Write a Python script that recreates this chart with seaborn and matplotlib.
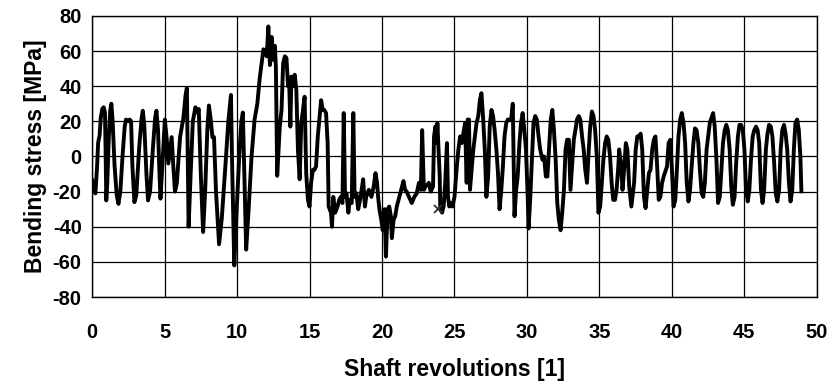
import numpy as np
import pandas as pd
import matplotlib
matplotlib.use("Agg")
import matplotlib.pyplot as plt
import seaborn as sns

# shaft revolutions
rev = [
    0.00, 0.12, 0.23, 0.35, 0.42, 0.52, 0.60, 0.70, 0.80, 0.89, 0.93, 0.98,
    1.05, 1.15, 1.25, 1.33, 1.42, 1.55, 1.70, 1.82, 1.95, 2.10, 2.25, 2.34,
    2.50, 2.60, 2.69, 2.78, 2.92, 3.05, 3.25, 3.42, 3.50, 3.60, 3.75, 3.86,
    4.00, 4.20, 4.35, 4.44, 4.55, 4.65, 4.72, 4.85, 5.02, 5.15, 5.26, 5.40,
    5.49, 5.60, 5.72, 5.85, 6.07, 6.30, 6.45, 6.54, 6.60, 6.66, 6.80, 6.95,
    7.13, 7.25, 7.36, 7.50, 7.66, 7.80, 7.95, 8.06, 8.20, 8.30, 8.41, 8.55,
    8.76, 8.95, 9.20, 9.40, 9.58, 9.65, 9.81, 9.95, 10.15, 10.30, 10.40, 10.50,
    10.63, 10.80, 11.00, 11.21, 11.40, 11.57, 11.82, 12.05, 12.16, 12.27, 12.39, 12.50,
    12.61, 12.68, 12.77, 12.95, 13.07, 13.18, 13.30, 13.41, 13.52, 13.59, 13.68, 13.75,
    13.86, 13.98, 14.09, 14.20, 14.32, 14.43, 14.55, 14.66, 14.77, 14.89, 15.00, 15.11,
    15.23, 15.34, 15.45, 15.57, 15.68, 15.80, 15.91, 16.02, 16.14, 16.25, 16.32, 16.48,
    16.55, 16.64, 16.77, 16.93, 17.05, 17.16, 17.27, 17.36, 17.45, 17.55, 17.68, 17.77,
    17.91, 18.02, 18.11, 18.23, 18.36, 18.52, 18.70, 18.82, 18.91, 19.09, 19.27, 19.43,
    19.55, 19.66, 19.73, 19.82, 19.95, 20.05, 20.18, 20.27, 20.39, 20.50, 20.61, 20.68,
    20.80, 20.91, 21.02, 21.14, 21.32, 21.48, 21.59, 21.70, 21.86, 22.05, 22.23, 22.39,
    22.55, 22.68, 22.77, 22.89, 23.00, 23.14, 23.23, 23.36, 23.52, 23.59, 23.68, 23.77,
    23.82, 23.98, 24.02, 24.14, 24.25, 24.36, 24.48, 24.55, 24.64, 24.77, 24.86, 25.00,
    25.16, 25.27, 25.39, 25.50, 25.61, 25.73, 25.84, 25.91, 26.00, 26.07, 26.18, 26.30,
    26.41, 26.52, 26.64, 26.75, 26.86, 26.98, 27.09, 27.20, 27.32, 27.43, 27.55, 27.66,
    27.77, 27.89, 28.00, 28.11, 28.23, 28.34, 28.45, 28.57, 28.68, 28.80, 28.91, 29.02,
    29.14, 29.25, 29.36, 29.48, 29.59, 29.70, 29.82, 29.93, 30.05, 30.11, 30.23, 30.34,
    30.45, 30.57, 30.68, 30.80, 30.91, 31.07, 31.18, 31.30, 31.41, 31.52, 31.64, 31.75,
    31.86, 31.98, 32.09, 32.20, 32.32, 32.43, 32.55, 32.66, 32.77, 32.89, 33.00, 33.11,
    33.23, 33.34, 33.45, 33.57, 33.68, 33.80, 33.91, 34.02, 34.14, 34.25, 34.36, 34.48,
    34.59, 34.70, 34.82, 34.93, 35.05, 35.16, 35.27, 35.39, 35.50, 35.61, 35.73, 35.84,
    35.95, 36.07, 36.18, 36.30, 36.36, 36.48, 36.59, 36.70, 36.82, 36.93, 37.05, 37.20,
    37.39, 37.50, 37.61, 37.73, 37.84, 37.95, 38.07, 38.18, 38.30, 38.41, 38.52, 38.64,
    38.75, 38.86, 38.98, 39.09, 39.20, 39.32, 39.43, 39.66, 39.77, 39.89, 40.00, 40.11,
    40.23, 40.34, 40.45, 40.57, 40.68, 40.80, 40.91, 41.02, 41.14, 41.25, 41.36, 41.48,
    41.59, 41.70, 41.82, 41.93, 42.05, 42.16, 42.27, 42.39, 42.61, 42.84, 42.95, 43.07,
    43.18, 43.30, 43.41, 43.52, 43.64, 43.75, 43.86, 43.98, 44.09, 44.20, 44.32, 44.43,
    44.55, 44.66, 44.77, 44.89, 45.00, 45.11, 45.23, 45.34, 45.45, 45.57, 45.68, 45.80,
    45.91, 46.02, 46.14, 46.25, 46.36, 46.48, 46.59, 46.70, 46.82, 46.93, 47.05, 47.16,
    47.27, 47.39, 47.50, 47.61, 47.73, 47.84, 47.95, 48.07, 48.18, 48.30, 48.41, 48.52,
    48.64, 48.75, 48.86, 48.93,
]

# bending stress [MPa] at those points
stress = [
    -13, -17, -21, -5, 8, 12, 22, 27, 28, 25, 5, -25,
    -15, 10, 26, 30, 20, -5, -22, -27, -20, 0, 17, 21,
    20, 21, 20, -5, -26, -22, 5, 22, 26, 18, -10, -25,
    -20, 5, 22, 26, 15, -10, -24, -5, 21, 10, -4, 5,
    11, -5, -20, -15, 11, 22, 35, 39, 0, -40, -10, 20,
    28, 25, 27, -10, -43, -20, 15, 29, 20, 11, 11, -20,
    -50, -35, -5, 20, 35, 0, -62, -35, 0, 20, 25, -10,
    -53, -30, 0, 21, 30, 45, 61, 57, 74, 52, 68, 55,
    63, 51, -11, 17, 26.5, 53, 57, 56, 40, 44, 17, 45.5,
    40, 46.5, 38, 4, -13, 19, 26.5, 34, -9.5, -24.7, -28.5, -15,
    -7.6, -7.6, -5.7, 11.4, 21, 32, 26.5, 26.5, 24.7, 7.6, -28.5, -32,
    -40, -23, -32, -28.5, -24.7, -23, -26.5, 24.7, -23, -21, -32, -24.7,
    -26.5, 24.7, -23, -21, -30, -23, -13, -28.5, -23, -19, -23, -17,
    -9.5, -15, -23, -30, -36, -42, -30, -57, -30, -28.5, -34, -46.5,
    -36, -34, -28.5, -24.7, -19, -14, -19, -20, -23, -26.5, -23, -21,
    -15, -19, 15, -19, -17, -16, -15, -20, -17, 11.4, 17, 7.6,
    19, -11, -30, -32, -28.5, -15, 7.6, -23, -28.5, -26.5, -28.5, -23,
    -5.7, 4, 11.4, 7.6, 13, 19, -15, 21, 21, -19, -7.6, 4,
    11.4, 19, 23, 32, 36, 21, 4, -23, -11.4, 17, 26.5, 23,
    15, 4, -9.5, -30, -19, -5.7, 11.4, 19, 21, 21, 21, 30,
    -34, -19, -11.4, 7.6, 19, 24.7, 15, 4, -23, -41, -23, -1.9,
    19, 23, 21, 11.4, 4, -1.9, 0, -11.4, -11.4, 4, 21, 26.5,
    15, -1.9, -26.5, -36, -42, -32, -19, 4, 9.5, 9.5, -19, -5.7,
    9.5, 15, 21, 23, 21, 11.4, 4, -7.6, -15, 1.9, 17, 25.6,
    23, 15, 0, -32, -28.5, -15, -1.9, 7.6, 11.4, 9.5, 0, -15,
    -24.7, -24.7, -19, -5.7, 4, -4, -19, -7.6, 7.6, 3.8, -17, -28.5,
    -15, 4, 11.4, 11.4, 13, 4, -23, -29.4, -19, -9.5, -7.6, 4,
    9.5, 11.4, -5.7, -24.7, -23, -15, -11.4, -5.7, 7.6, 9.5, -7.6, -28.5,
    -24.7, -7.6, 11.4, 21, 24.7, 19, 7.6, -15, -25.6, -19, -5.7, 7.6,
    16, 15, 7.6, -7.6, -21, -23, -15, 4, 19, 24.7, 17, -1.9,
    -26.5, -23, -7.6, 7.6, 15, 18, 15, 4, -17, -27.5, -23, -3.8,
    11.4, 18, 18, 15, 4, -19, -25.6, -19, -1.9, 11.4, 15, 17,
    15, 7.6, -19, -26.5, -19, 4, 13, 18, 17, 11.4, -3.8, -21,
    -25.6, -19, 4, 15, 18, 13, 4, -15, -25.6, -19, 4, 19,
    21, 15, 0, -20,
]

# cross marker on the trace
mark_rev = [23.86]
mark_stress = [-30]

x_ticks = list(range(0, 51, 5))
y_ticks = list(range(-80, 81, 20))

df = pd.DataFrame({"rev": rev, "stress": stress})

sns.set_style("white")
plt.rcParams["font.family"] = ["Liberation Sans", "DejaVu Sans"]
plt.rcParams["axes.unicode_minus"] = False
plt.rcParams["text.color"] = "black"
plt.rcParams["axes.labelcolor"] = "black"
plt.rcParams["xtick.color"] = "black"
plt.rcParams["ytick.color"] = "black"

fig = plt.figure(figsize=(8.37, 3.88), dpi=100)
ax = fig.add_axes([0.110, 0.2345, 0.866, 0.7245])

sns.lineplot(data=df, x="rev", y="stress", color="black", linewidth=2.8,
             sort=False, estimator=None, ax=ax)
ax.plot(mark_rev, mark_stress, marker="x", color="#333333", markersize=6,
        markeredgewidth=1.3, linestyle="none")

ax.set_xlim(0, 50)
ax.set_ylim(-80, 80)
ax.set_xticks(x_ticks)
ax.set_yticks(y_ticks)
ax.grid(True, color="black", linewidth=0.9)
ax.set_axisbelow(True)
for s in ax.spines.values():
    s.set_color("black")
    s.set_linewidth(1.0)

ax.tick_params(axis="y", length=4.5, width=0.9, color="black", pad=3,
               labelsize=14.5)
ax.tick_params(axis="x", length=0, pad=19, labelsize=14.5)
for lab in ax.get_xticklabels() + ax.get_yticklabels():
    lab.set_fontweight("bold")

ax.set_xlabel("Shaft revolutions [1]", fontsize=16.5, fontweight="bold",
              labelpad=11)
ax.set_ylabel("Bending stress [MPa]", fontsize=16.5, fontweight="bold",
              labelpad=4)

fig.savefig("out.png", dpi=100)
